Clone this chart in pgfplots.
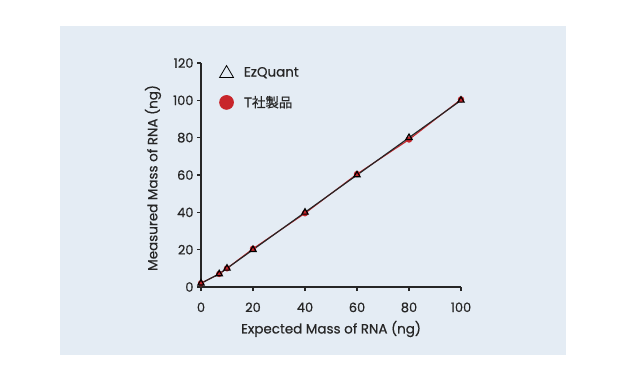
\documentclass[border=0pt]{standalone}
\usepackage{pgfplots}
\pgfplotsset{compat=1.18}
\usepackage{fontspec}
\setmainfont{Poppins}[FakeBold=0.6]
\newfontfamily\cjk{Noto Sans CJK JP}[FakeBold=0.6]
\definecolor{panel}{HTML}{E4ECF4}
\definecolor{tred}{HTML}{C8252B}
\definecolor{txt}{HTML}{262626}
\begin{document}
\begin{tikzpicture}[x=1bp,y=1bp]
\fill[white] (0,0) rectangle (621,381);
\useasboundingbox (0,0) rectangle (621,381);
\fill[panel] (60,26) rectangle (566,355);
\begin{axis}[
  at={(201bp,94bp)}, anchor=south west,
  scale only axis, width=260bp, height=224bp,
  xmin=0, xmax=100, ymin=0, ymax=120,
  axis lines=left, axis line style={-, txt, line width=1.1pt},
  xtick={0,20,40,60,80,100}, ytick={0,20,40,60,80,100,120},
  tick align=outside, major tick length=4bp,
  tick style={txt, line width=1.1pt},
  /pgf/number format/assume math mode=true,
  ticklabel style={font=\fontsize{13}{15}\selectfont, text=txt},
  xticklabel style={yshift=-8bp},
  xlabel={Expected Mass of RNA (ng)}, ylabel={Measured Mass of RNA (ng)},
  label style={font=\fontsize{13.5}{15}\selectfont, text=txt},
  xlabel style={at={(axis description cs:0.5,-0.1875)}, anchor=center},
  ylabel style={at={(axis description cs:-0.185,0.487)}, anchor=center},
  clip=false,
  legend style={at={(axis cs:6.9,119)}, anchor=north west, draw=none, fill=none,
    font=\fontsize{13.5}{15}\selectfont, text=txt, row sep=14bp, column sep=8bp, inner sep=0pt},
  legend cell align=left,
  reverse legend,
]
\addplot[tred, line width=1.1pt, mark=*, mark size=2.6bp, mark options={fill=tred, draw=tred},
  legend image code/.code={\fill[tred] (0.3cm,0) circle (6.8bp);}]
  coordinates {(0,2) (7,7) (10,10) (20,20.5) (40,39.5) (60,60.5) (80,79) (100,100.5)};
\addlegendentry{{\cjk T社製品}}
\addplot[txt, line width=1.2pt, mark=triangle, mark size=3.6bp, mark options={draw=black, line width=1.2pt, fill=none},
  legend image code/.code={\draw[black, line width=0.8pt] (0.3cm,0) ++(0,7bp) -- ++(-7bp,-12bp) -- ++(14bp,0) -- cycle;}]
  coordinates {(0,2) (7,7) (10,10) (20,20) (40,40) (60,60) (80,80) (100,100)};
\addlegendentry{EzQuant}
\end{axis}
\end{tikzpicture}
\end{document}
